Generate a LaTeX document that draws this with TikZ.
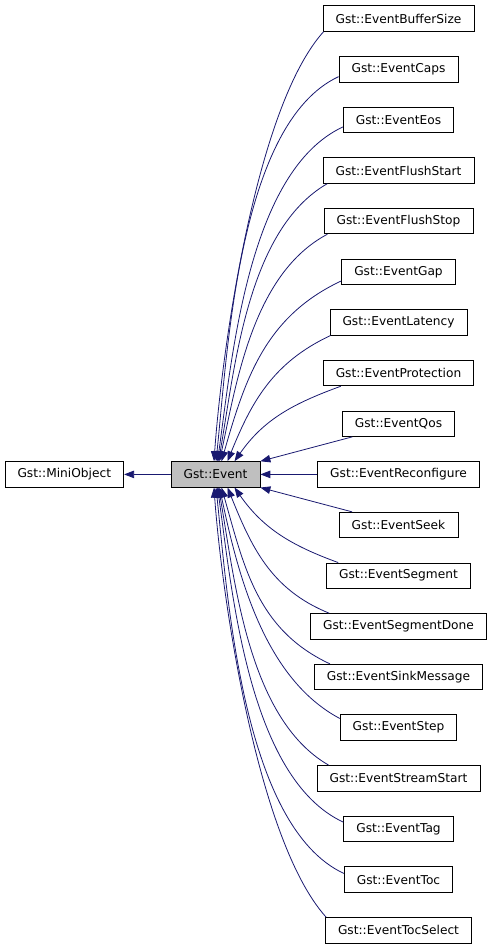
\documentclass[tikz,border=0pt]{standalone}
\usepackage{fontspec}
\setmainfont{DejaVu Sans}
\usetikzlibrary{arrows.meta}
\definecolor{edgeblue}{RGB}{25,25,112}
\definecolor{hlgray}{RGB}{191,191,191}
\tikzset{
  cls/.style={draw=black, line width=0.8pt, rectangle, minimum height=25.5pt,
    inner xsep=12.6pt, inner ysep=0pt, font=\fontsize{12.2}{14}\selectfont},
  hl/.style={cls, fill=hlgray},
  edge/.style={draw=edgeblue, line width=0.8pt, -{Triangle[length=10pt,width=7.5pt]}}
}
\begin{document}
\begin{tikzpicture}[x=1pt,y=1pt]
    \useasboundingbox (0,0) rectangle (495,-949);
    % base classes
    \node [cls] (miniobj) at (64.3,-474.4) {Gst::MiniObject};
    \node [hl] (event) at (215.5,-474.4) {Gst::Event};
    % derived classes
    \node [cls] (bufsize) at (398.5,-18.5) {Gst::EventBufferSize};
    \node [cls] (caps) at (398.5,-69.2) {Gst::EventCaps};
    \node [cls] (eos) at (398.5,-119.8) {Gst::EventEos};
    \node [cls] (flstart) at (398.5,-170.5) {Gst::EventFlushStart};
    \node [cls] (flstop) at (398.5,-221.1) {Gst::EventFlushStop};
    \node [cls] (gap) at (398.5,-271.8) {Gst::EventGap};
    \node [cls] (latency) at (398.5,-322.4) {Gst::EventLatency};
    \node [cls] (protect) at (398.5,-373.1) {Gst::EventProtection};
    \node [cls] (qos) at (398.5,-423.7) {Gst::EventQos};
    \node [cls] (reconf) at (398.5,-474.4) {Gst::EventReconfigure};
    \node [cls] (seek) at (398.5,-525.0) {Gst::EventSeek};
    \node [cls] (segment) at (398.5,-575.7) {Gst::EventSegment};
    \node [cls] (segdone) at (398.5,-626.3) {Gst::EventSegmentDone};
    \node [cls] (sinkmsg) at (398.5,-677.0) {Gst::EventSinkMessage};
    \node [cls] (step) at (398.5,-727.6) {Gst::EventStep};
    \node [cls] (stream) at (398.5,-778.3) {Gst::EventStreamStart};
    \node [cls] (tag) at (398.5,-828.9) {Gst::EventTag};
    \node [cls] (toc) at (398.5,-879.6) {Gst::EventToc};
    \node [cls] (tocsel) at (398.5,-930.2) {Gst::EventTocSelect};
    % inheritance
    \draw [edge] (event) -- (miniobj);
    \draw [edge] ([xshift=1pt]bufsize.south west) to [out=228, in=86, looseness=0.6] ([xshift=-1.5pt]event.north);
    \draw [edge] ([yshift=5.7pt]caps.south west) to [out=205, in=84, looseness=0.7] ([xshift=0.5pt]event.north);
    \draw [edge] ([yshift=6pt]eos.south west) to [out=205, in=82, looseness=0.75] ([xshift=2pt]event.north);
    \draw [edge] ([xshift=4.7pt]flstart.south west) to [out=210, in=80, looseness=0.8] ([xshift=3pt]event.north);
    \draw [edge] ([xshift=3.7pt]flstop.south west) to [out=208, in=78, looseness=0.85] ([xshift=4pt]event.north);
    \draw [edge] ([yshift=4pt]gap.south west) to [out=205, in=74] ([xshift=6pt]event.north);
    \draw [edge] ([xshift=1pt]latency.south west) to [out=205, in=68] ([xshift=12pt]event.north);
    \draw [edge] ([xshift=18pt]protect.south west) to [out=200, in=55] ([xshift=19pt]event.north);
    \draw [edge] ([xshift=10.4pt]qos.south west) -- (event.north east);
    \draw [edge] (reconf) -- (event);
    \draw [edge] ([xshift=13.4pt]seek.north west) -- (event.south east);
    \draw [edge] ([xshift=12pt]segment.north west) to [out=160, in=-55] ([xshift=19pt]event.south);
    \draw [edge] ([xshift=19pt]segdone.north west) to [out=158, in=-68] ([xshift=12pt]event.south);
    \draw [edge] ([xshift=16pt]sinkmsg.north west) to [out=155, in=-74] ([xshift=6pt]event.south);
    \draw [edge] ([yshift=-4pt]step.north west) to [out=152, in=-78, looseness=0.85] ([xshift=4pt]event.south);
    \draw [edge] ([xshift=12pt]stream.north west) to [out=150, in=-80, looseness=0.8] ([xshift=3pt]event.south);
    \draw [edge] ([yshift=-6.4pt]tag.north west) to [out=155, in=-82, looseness=0.75] ([xshift=2pt]event.south);
    \draw [edge] ([yshift=-7pt]toc.north west) to [out=155, in=-84, looseness=0.7] ([xshift=0.5pt]event.south);
    \draw [edge] ([xshift=1pt]tocsel.north west) to [out=132, in=-86, looseness=0.6] ([xshift=-1.5pt]event.south);
\end{tikzpicture}
\end{document}
